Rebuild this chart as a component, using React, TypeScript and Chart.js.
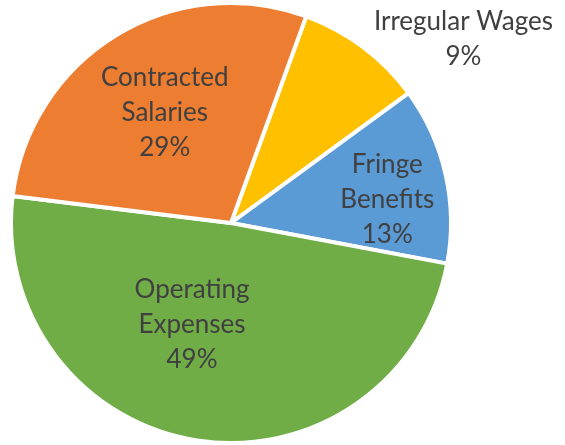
import React, { useEffect, useRef } from "react";
import { Chart, registerables } from "chart.js";

Chart.register(...registerables);

const categories = ["Irregular Wages", "Fringe Benefits", "Operating Expenses", "Contracted Salaries"];
const labelLines = [["Irregular Wages"], ["Fringe", "Benefits"], ["Operating", "Expenses"], ["Contracted", "Salaries"]];
const values = [9.4, 13.0, 49.0, 28.6];
const percentLabels = ["9%", "13%", "49%", "29%"];
const colors = ["#FFC000", "#5B9BD5", "#70AD47", "#ED7D31"];

// label placement relative to each slice: angle shift (deg) from slice middle, radius fraction
const labelShiftDeg = [14.7, 4.1, 12.1, 0.5];
const labelRadiusFrac = [1.36, 0.725, 0.5, 0.59];

const FONT = "Lato, 'Noto Sans', sans-serif";

const labelPlugin = {
  id: "sliceLabels",
  afterDatasetsDraw(chart: any) {
    const ctx = chart.ctx;
    const meta = chart.getDatasetMeta(0);
    ctx.save();
    ctx.fillStyle = "#404040";
    ctx.font = `26px ${FONT}`;
    ctx.textAlign = "center";
    ctx.textBaseline = "middle";
    const lineH = 35;
    meta.data.forEach((arc: any, i: number) => {
      const { x, y, startAngle, endAngle, outerRadius } = arc.getProps(["x", "y", "startAngle", "endAngle", "outerRadius"], true);
      const visR = outerRadius - 2;
      const mid = (startAngle + endAngle) / 2 + (labelShiftDeg[i] * Math.PI) / 180;
      const r = visR * labelRadiusFrac[i];
      const cx = x + r * Math.cos(mid);
      const cy = y + r * Math.sin(mid);
      const lines = [...labelLines[i], percentLabels[i]];
      const top = cy - ((lines.length - 1) * lineH) / 2;
      lines.forEach((t, j) => ctx.fillText(t, cx, top + j * lineH));
    });
    ctx.restore();
  },
};

export default function App() {
  const ref = useRef<HTMLCanvasElement>(null);
  useEffect(() => {
    document.body.style.margin = "0";
    const chart = new Chart(ref.current as HTMLCanvasElement, {
      type: "pie",
      data: {
        labels: categories,
        datasets: [
          {
            data: values,
            backgroundColor: colors,
            borderColor: "#FFFFFF",
            borderWidth: 4,
          },
        ],
      },
      options: {
        animation: false,
        responsive: true,
        maintainAspectRatio: false,
        rotation: 20,
        layout: { padding: { left: 9, top: 1, right: 112, bottom: 0 } },
        plugins: { legend: { display: false }, tooltip: { enabled: false } },
      },
      plugins: [labelPlugin],
    });
    return () => chart.destroy();
  }, []);
  return (
    <div style={{ position: "fixed", left: 0, top: 0, width: 565, height: 445, background: "#fff" }}>
      <canvas ref={ref} />
    </div>
  );
}
